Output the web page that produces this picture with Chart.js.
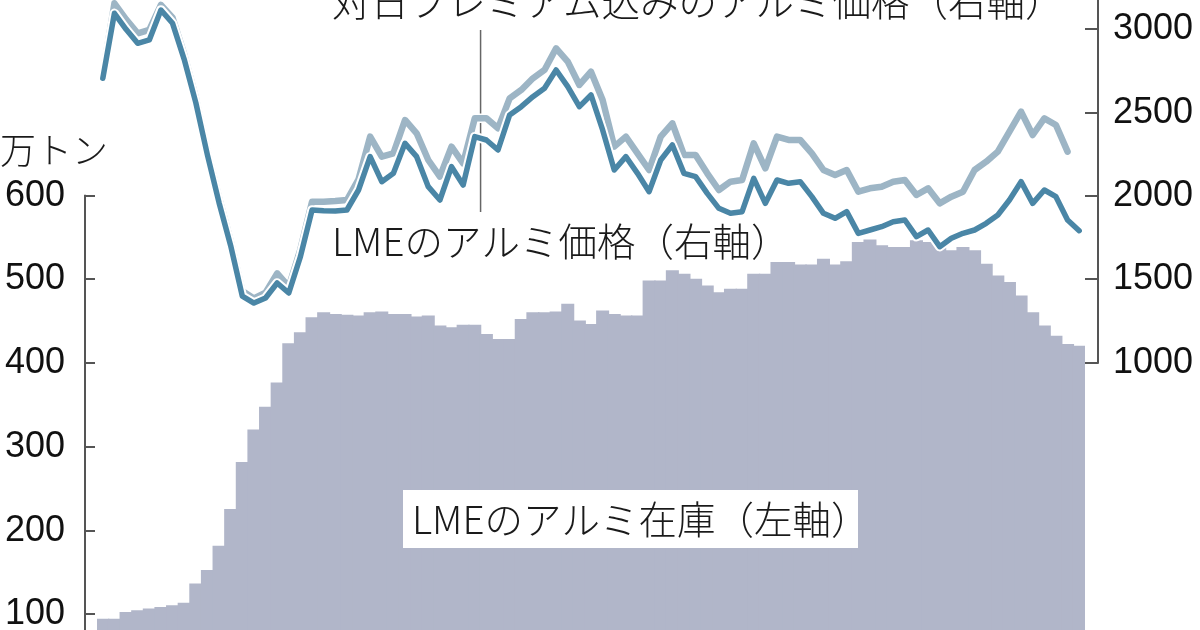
<!DOCTYPE html>
<html lang="ja">
<head>
<meta charset="utf-8">
<script src="https://cdn.jsdelivr.net/npm/chart.js@4.4.0/dist/chart.umd.min.js"></script>
<style>
html, body { margin: 0; padding: 0; background: #fff; }
#chart { display: block; }
</style>
</head>
<body>
<canvas id="chart" width="1200" height="630"></canvas>
<script>
// Mesi: gen 2008 - gen 2015 (85 barre)
const months = [];
for (let y = 2008; y <= 2015; y++) {
    for (let m = 1; m <= 12; m++) {
        if (months.length < 85) months.push(y + '/' + m);
    }
}

// LMEのアルミ在庫 (万トン, asse sinistro)
const stocks = [
    94, 94, 102, 104, 106, 108, 110, 113, 136, 152, 181, 225,
    281, 320, 347, 376, 423, 436, 454, 460, 458, 457, 456, 460,
    461, 458, 458, 455, 456, 444, 442, 445, 445, 434, 428, 428,
    452, 460, 460, 461, 470, 450, 446, 462, 458, 456, 456, 498,
    498, 510, 506, 500, 492, 484, 488, 488, 506, 506, 520, 520,
    517, 517, 524, 517, 521, 544, 547, 540, 538, 538, 546, 544,
    540, 534, 538, 534, 518, 504, 496, 480, 460, 444, 432, 422,
    420
];

// LMEのアルミ価格 (ドル, asse destro)
const lmePrice = [
    2706, 3096, 3000, 2916, 2936, 3116, 3036, 2820, 2560, 2246, 1960, 1702,
    1400, 1358, 1388, 1478, 1418, 1636, 1916, 1912, 1910, 1916, 2036, 2236,
    2086, 2136, 2316, 2236, 2056, 1976, 2176, 2066, 2356, 2336, 2276, 2486,
    2536, 2596, 2646, 2756, 2656, 2536, 2606, 2396, 2156, 2236, 2136, 2026,
    2216, 2306, 2136, 2116, 2016, 1926, 1896, 1906, 2106, 1956, 2096, 2076,
    2086, 1996, 1896, 1866, 1906, 1776, 1796, 1816, 1846, 1856, 1756, 1796,
    1696, 1746, 1776, 1796, 1836, 1886, 1976, 2086, 1956, 2036, 1996, 1856,
    1792
];

// 対日プレミアム込みのアルミ価格 (ultimo mese non disponibile)
const premiumPrice = [
    2730, 3156, 3060, 2976, 2996, 3146, 3070, 2850, 2590, 2270, 1990, 1730,
    1430, 1385, 1420, 1536, 1456, 1680, 1966, 1966, 1970, 1976, 2100, 2356,
    2236, 2256, 2456, 2376, 2216, 2116, 2296, 2196, 2466, 2466, 2406, 2586,
    2636, 2706, 2756, 2886, 2806, 2666, 2746, 2576, 2296, 2356, 2256, 2156,
    2356, 2436, 2246, 2246, 2136, 2036, 2086, 2096, 2316, 2166, 2356, 2336,
    2336, 2256, 2156, 2126, 2156, 2026, 2046, 2056, 2086, 2096, 2006, 2046,
    1956, 1996, 2026, 2156, 2206, 2266, 2386, 2506, 2366, 2466, 2426, 2266,
    null
];

// Etichette degli assi
const leftTicks = [100, 200, 300, 400, 500, 600];
const rightTicks = [1000, 1500, 2000, 2500, 3000];

const tickFont = { family: '"Liberation Sans", Arial, sans-serif', size: 36 };
const jpFont = '300 38.5px "Noto Sans CJK JP", sans-serif';

// Assi disegnati a mano (linee + tacche verso l'interno) e testi
const decor = {
    id: 'decor',
    beforeDatasetsDraw(chart) {
        const { ctx, scales: { x } } = chart;
        const lx = (x.getPixelForValue(32) + x.getPixelForValue(33)) / 2;
        ctx.save();
        ctx.strokeStyle = '#666';
        ctx.lineWidth = 1.5;
        ctx.beginPath();
        ctx.moveTo(lx, 30);
        ctx.lineTo(lx, 212);
        ctx.stroke();
        ctx.restore();
    },
    afterDraw(chart) {
        const { ctx, chartArea: ca, scales: { yL, yR } } = chart;
        ctx.save();
        ctx.strokeStyle = '#555';
        ctx.lineWidth = 2;

        // asse sinistro
        const lx = ca.left - 12;
        ctx.beginPath();
        ctx.moveTo(lx, yL.getPixelForValue(600) - 1);
        ctx.lineTo(lx, chart.height);
        ctx.stroke();
        leftTicks.forEach(v => {
            const y = Math.round(yL.getPixelForValue(v));
            ctx.beginPath();
            ctx.moveTo(lx, y);
            ctx.lineTo(lx + 10, y);
            ctx.stroke();
        });

        // asse destro
        const rx = ca.right + 13;
        ctx.beginPath();
        ctx.moveTo(rx, 0);
        ctx.lineTo(rx, yR.getPixelForValue(1000) + 1);
        ctx.stroke();
        rightTicks.forEach(v => {
            const y = Math.round(yR.getPixelForValue(v));
            ctx.beginPath();
            ctx.moveTo(rx - 13, y);
            ctx.lineTo(rx, y);
            ctx.stroke();
        });

        // riquadro bianco per l'etichetta del magazzino
        ctx.fillStyle = '#fff';
        ctx.fillRect(403, 490, 455, 58);

        ctx.fillStyle = '#1a1a1a';
        ctx.font = jpFont;
        ctx.textBaseline = 'middle';
        ctx.textAlign = 'left';
        ctx.fillText('LMEのアルミ在庫（左軸）', 412, 519);
        ctx.fillText('LMEのアルミ価格（右軸）', 332, 241);
        ctx.fillText('対日プレミアム込みのアルミ価格（右軸）', 332, 1);
        ctx.font = '300 36px "Noto Sans CJK JP", sans-serif';
        ctx.fillText('万トン', 0, 150);
        ctx.restore();
    }
};

const data = {
    labels: months,
    datasets: [{
        type: 'line',
        label: 'LMEのアルミ価格',
        data: lmePrice,
        yAxisID: 'yR',
        borderColor: '#4a86a6',
        borderWidth: 5.5,
        pointRadius: 0,
        tension: 0,
        borderJoinStyle: 'round',
        borderCapStyle: 'round',
        clip: false,
        order: 1
    }, {
        type: 'line',
        label: 'casing LME',
        data: lmePrice,
        yAxisID: 'yR',
        borderColor: '#ffffff',
        borderWidth: 9.5,
        pointRadius: 0,
        tension: 0,
        borderJoinStyle: 'round',
        borderCapStyle: 'round',
        clip: false,
        order: 2
    }, {
        type: 'line',
        label: '対日プレミアム込みのアルミ価格',
        data: premiumPrice,
        yAxisID: 'yR',
        borderColor: '#9db5c5',
        borderWidth: 6.5,
        pointRadius: 0,
        tension: 0,
        borderJoinStyle: 'round',
        borderCapStyle: 'round',
        clip: false,
        order: 3
    }, {
        type: 'line',
        label: 'casing premium',
        data: premiumPrice,
        yAxisID: 'yR',
        borderColor: '#ffffff',
        borderWidth: 9.5,
        pointRadius: 0,
        tension: 0,
        borderJoinStyle: 'round',
        borderCapStyle: 'round',
        clip: false,
        order: 4
    }, {
        type: 'bar',
        label: 'LMEのアルミ在庫',
        data: stocks,
        yAxisID: 'yL',
        backgroundColor: '#b1b6c9',
        borderWidth: 0,
        inflateAmount: 0.7,
        barPercentage: 1,
        categoryPercentage: 1,
        order: 5
    }]
};

const config = {
    type: 'bar',
    data,
    plugins: [decor],
    options: {
        responsive: false,
        animation: false,
        devicePixelRatio: 1,
        layout: { padding: 0 },
        plugins: {
            legend: { display: false },
            tooltip: { enabled: false }
        },
        scales: {
            x: {
                display: false,
                offset: true
            },
            yL: {
                position: 'left',
                min: 81.25,
                max: 833.8,
                afterBuildTicks: s => { s.ticks = leftTicks.map(v => ({ value: v })); },
                afterFit: s => { s.width = 97; s.paddingTop = 0; s.paddingBottom = 0; },
                grid: { display: false, drawTicks: false },
                border: { display: false },
                ticks: { font: tickFont, color: '#111', padding: 32, callback: v => String(v) }
            },
            yR: {
                position: 'right',
                min: -603.5,
                max: 3175.8,
                afterBuildTicks: s => { s.ticks = rightTicks.map(v => ({ value: v })); },
                afterFit: s => { s.width = 115; s.paddingTop = 0; s.paddingBottom = 0; },
                grid: { display: false, drawTicks: false },
                border: { display: false },
                ticks: { font: tickFont, color: '#111', padding: 28, callback: v => String(v) }
            }
        }
    }
};

const myChart = new Chart(document.getElementById('chart'), config);
</script>
</body>
</html>
